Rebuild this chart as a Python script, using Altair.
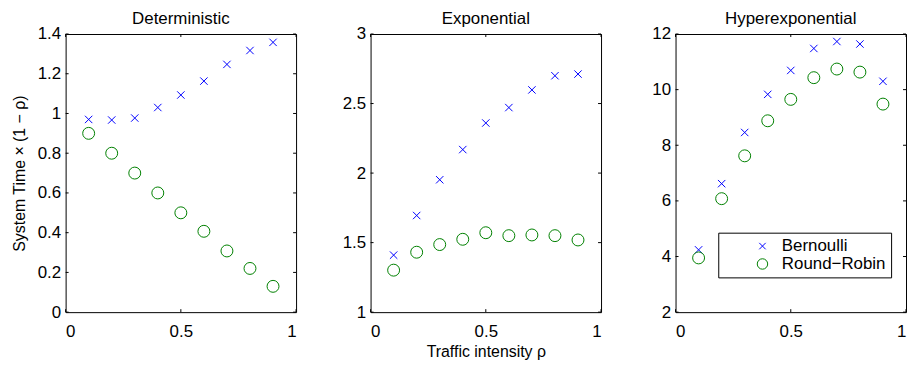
import altair as alt
import pandas as pd

rho = [0.1, 0.2, 0.3, 0.4, 0.5, 0.6, 0.7, 0.8, 0.9]
det_bern = [0.97, 0.967, 0.977, 1.03, 1.093, 1.163, 1.247, 1.317, 1.358]
det_rr = [0.90, 0.80, 0.70, 0.60, 0.50, 0.407, 0.308, 0.22, 0.13]
exp_bern = [1.41, 1.695, 1.952, 2.169, 2.36, 2.471, 2.598, 2.70, 2.712]
exp_rr = [1.302, 1.431, 1.486, 1.524, 1.571, 1.55, 1.555, 1.55, 1.519]
hyp_bern = [4.24, 6.62, 8.46, 9.83, 10.69, 11.48, 11.73, 11.64, 10.30]
hyp_rr = [3.95, 6.08, 7.62, 8.88, 9.65, 10.43, 10.74, 10.63, 9.48]

panel_titles = ["Deterministic", "Exponential", "Hyperexponential"]
series_names = ["Bernoulli", "Round\u2212Robin"]
y_domains = [[0, 1.4], [1, 3], [2, 12]]
y_ticks = [[0, 0.2, 0.4, 0.6, 0.8, 1.0, 1.2, 1.4],
           [1, 1.5, 2, 2.5, 3],
           [2, 4, 6, 8, 10, 12]]
x_ticks = [0, 0.5, 1]
y_title = "System Time \u00d7 (1 \u2212 \u03c1)"
x_title = "Traffic intensity \u03c1"

FONT = "Liberation Sans"
W, H = 232, 280
TL = 3
XPATH = "M-0.62,-0.62L0.62,0.62M0.62,-0.62L-0.62,0.62"


def panel(i, bern, rr):
    df = pd.DataFrame({
        "rho": rho + rho,
        "value": bern + rr,
        "series": [series_names[0]] * len(rho) + [series_names[1]] * len(rho),
    })
    xs = alt.Scale(domain=[0, 1], nice=False, zero=False)
    ys = alt.Scale(domain=y_domains[i], nice=False, zero=False)
    xaxis = alt.Axis(values=x_ticks, format="~g", title=x_title if i == 1 else "",
                     grid=False, ticks=False, tickSize=0, domain=False,
                     labelPadding=12, titlePadding=4)
    yaxis = alt.Axis(values=y_ticks[i], format="~g", title=y_title if i == 0 else "",
                     grid=False, ticks=False, tickSize=0, domain=False,
                     labelPadding=5, titlePadding=10)
    if i == 2:
        legend = alt.Legend(title=None, orient="none", legendX=43, legendY=200,
                            strokeColor="black", fillColor="white", padding=5,
                            symbolOffset=31, labelOffset=11, rowPadding=0,
                            labelFontSize=17, labelFont=FONT, labelColor="black",
                            symbolSize=110, symbolStrokeWidth=1, cornerRadius=0,
                            labelExpr="datum.label + '\u2002'")
    else:
        legend = None
    pts = alt.Chart(df).mark_point(filled=False, strokeWidth=1, opacity=1, size=144).encode(
        x=alt.X("rho:Q", scale=xs, axis=xaxis),
        y=alt.Y("value:Q", scale=ys, axis=yaxis),
        color=alt.Color("series:N", scale=alt.Scale(domain=series_names, range=["#0000ff", "#008000"]),
                        legend=legend),
        shape=alt.Shape("series:N", scale=alt.Scale(domain=series_names, range=[XPATH, "circle"]),
                        legend=legend),
    )
    ydf = pd.DataFrame({"value": y_ticks[i]})
    xdf = pd.DataFrame({"rho": x_ticks})
    yl = alt.Chart(ydf).mark_rule(color="black", strokeWidth=1).encode(
        y=alt.Y("value:Q", scale=ys, axis=yaxis), x=alt.value(0), x2=alt.value(TL))
    yr = alt.Chart(ydf).mark_rule(color="black", strokeWidth=1).encode(
        y=alt.Y("value:Q", scale=ys, axis=yaxis), x=alt.value(W - TL), x2=alt.value(W))
    xb = alt.Chart(xdf).mark_rule(color="black", strokeWidth=1).encode(
        x=alt.X("rho:Q", scale=xs, axis=xaxis), y=alt.value(H - TL), y2=alt.value(H))
    xt = alt.Chart(xdf).mark_rule(color="black", strokeWidth=1).encode(
        x=alt.X("rho:Q", scale=xs, axis=xaxis), y=alt.value(0), y2=alt.value(TL))
    return alt.layer(pts, yl, yr, xb, xt).properties(
        width=W, height=H,
        title=alt.TitleParams(panel_titles[i], fontSize=17, font=FONT, fontWeight="normal",
                              color="black", offset=-3),
    )


chart = alt.hconcat(
    panel(0, det_bern, det_rr),
    panel(1, exp_bern, exp_rr),
    panel(2, hyp_bern, hyp_rr),
    spacing=75,
    bounds="flush",
).resolve_scale(
    color="independent", shape="independent"
).resolve_legend(
    color="independent", shape="independent"
).properties(
    padding={"left": 2, "top": 0, "right": 0, "bottom": 0},
    background="white",
).configure_view(
    stroke="black", strokeWidth=1
).configure_axis(
    labelFont=FONT, labelFontSize=17, labelColor="black",
    titleFont=FONT, titleFontSize=16, titleColor="black", titleFontWeight="normal",
)

chart.save("out.html", embed_options={"renderer": "svg", "actions": False})
